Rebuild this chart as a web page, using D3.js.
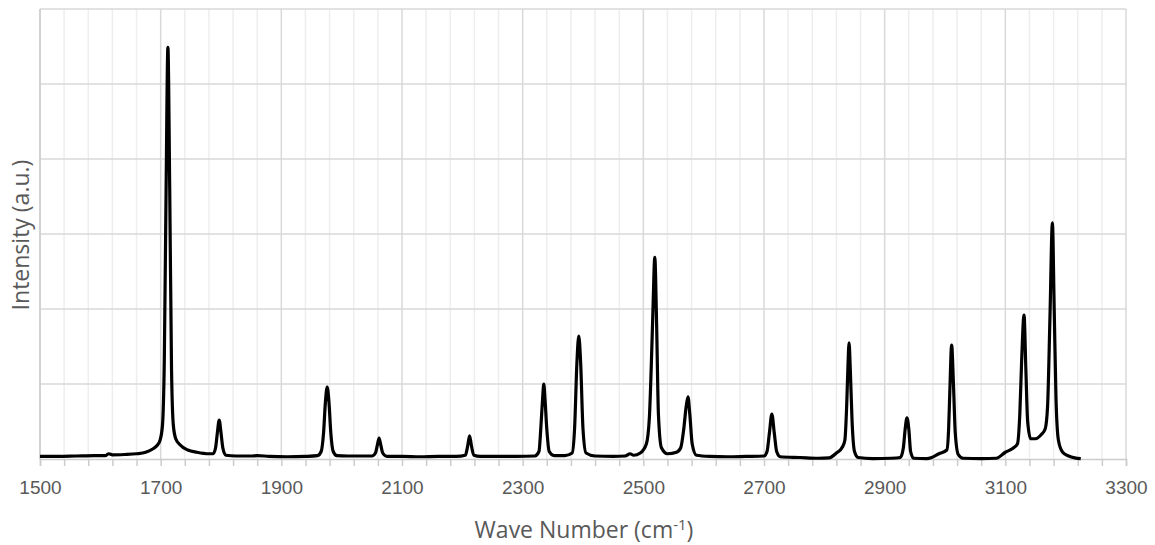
<!DOCTYPE html>
<html lang="en">
<head>
<meta charset="UTF-8" />
<title>Spectrum</title>
<script src="https://d3js.org/d3.v7.min.js"></script>
<style>
    body { margin: 0; background: #fff; }
    svg { display: block; font-family: "Open Sans", sans-serif; }
    .tick text { fill: #595959; }
</style>
</head>
<body>
<div id="chart"></div>
<script>
    // wave number (cm-1) and intensity (a.u.)
    const waveNumber = [
        1500, 1530, 1560, 1590, 1608, 1614, 1620, 1640, 1660, 1675, 1686, 1694, 1699, 1703, 1706, 1709, 1712, 1715, 1718, 1721, 1725, 1732, 1745, 1760, 1780,
        1787, 1791, 1794, 1797, 1800, 1803, 1808, 1825, 1850, 1860, 1880, 1910, 1940, 1960,
        1966, 1970, 1973, 1976, 1979, 1982, 1986, 1992, 2010, 2030, 2050,
        2056, 2059, 2062, 2065, 2068, 2075, 2100, 2130, 2160, 2190,
        2205, 2209, 2212, 2215, 2219, 2230, 2260, 2290, 2320,
        2327, 2330, 2333, 2335, 2337, 2340, 2344, 2352, 2370,
        2382, 2386, 2390, 2393, 2396, 2400, 2405, 2420, 2450, 2470, 2478, 2484, 2495,
        2505, 2510, 2513, 2516, 2519, 2522, 2525, 2530, 2540, 2555,
        2562, 2567, 2571, 2574, 2577, 2581, 2588, 2610, 2640, 2670, 2700,
        2705, 2709, 2713, 2717, 2721, 2727, 2760, 2790, 2808,
        2820, 2830, 2834, 2837, 2839, 2841, 2843, 2846, 2850, 2856, 2880, 2910, 2926,
        2931, 2934, 2937, 2940, 2943, 2948, 2970, 2978,
        2990, 3003, 3006, 3008, 3011, 3014, 3017, 3022, 3030, 3060, 3085,
        3100, 3112, 3120, 3124, 3127, 3131, 3134, 3137, 3142, 3150, 3160, 3166,
        3170, 3174, 3178, 3181, 3184, 3188, 3195, 3205, 3215, 3225
    ];
    const intensity = [
        0.035, 0.035, 0.04, 0.045, 0.045, 0.07, 0.055, 0.06, 0.07, 0.09, 0.13, 0.18, 0.25, 0.45, 1.3, 3.6, 5.49, 3.6, 1.2, 0.45, 0.27, 0.19, 0.12, 0.09, 0.07,
        0.07, 0.15, 0.35, 0.52, 0.35, 0.15, 0.05, 0.04, 0.04, 0.045, 0.035, 0.03, 0.035, 0.045,
        0.1, 0.35, 0.75, 0.96, 0.75, 0.35, 0.1, 0.045, 0.04, 0.04, 0.04,
        0.08, 0.18, 0.28, 0.18, 0.08, 0.035, 0.035, 0.03, 0.035, 0.035,
        0.05, 0.18, 0.31, 0.18, 0.05, 0.035, 0.035, 0.035, 0.04,
        0.1, 0.4, 0.8, 1.0, 0.8, 0.4, 0.1, 0.045, 0.045,
        0.08, 0.4, 1.3, 1.64, 1.3, 0.4, 0.08, 0.04, 0.035, 0.04, 0.07, 0.05, 0.08,
        0.2, 0.55, 1.2, 2.0, 2.69, 1.8, 0.6, 0.15, 0.07, 0.09,
        0.15, 0.4, 0.7, 0.83, 0.6, 0.2, 0.05, 0.035, 0.03, 0.035, 0.04,
        0.1, 0.35, 0.6, 0.35, 0.1, 0.03, 0.02, 0.01, 0.015,
        0.08, 0.16, 0.25, 0.7, 1.2, 1.55, 1.2, 0.5, 0.1, 0.02, 0.005, 0.01, 0.02,
        0.15, 0.4, 0.55, 0.4, 0.1, 0.01, 0.005, 0.02,
        0.07, 0.12, 0.4, 0.9, 1.52, 1.0, 0.35, 0.06, 0.01, 0.005, 0.01,
        0.09, 0.14, 0.2, 0.6, 1.3, 1.92, 1.2, 0.5, 0.27, 0.27, 0.33, 0.4,
        0.7, 1.9, 3.15, 2.0, 0.8, 0.25, 0.09, 0.04, 0.015, 0.005
    ];
    const xMajorTicks = [1500, 1700, 1900, 2100, 2300, 2500, 2700, 2900, 3100, 3300];
    const xMinorTicks = d3.range(1500, 3301, 40);
    const yGridValues = [1, 2, 3, 4, 5, 6];
    const xTitle = "Wave Number (cm";
    const yTitle = "Intensity (a.u.)";

    const W = 1155, H = 545;
    const margin = { top: 9, right: 29, bottom: 86, left: 40 };
    const width = W - margin.left - margin.right;
    const height = H - margin.top - margin.bottom;

    const svg = d3.select("#chart").append("svg")
        .attr("width", W)
        .attr("height", H);

    const g = svg.append("g")
        .attr("transform", `translate(${margin.left},${margin.top})`);

    const x = d3.scaleLinear().domain([1500, 3300]).range([0, width]);
    const y = d3.scaleLinear().domain([0, 6]).range([height, 0]);

    // minor vertical grid
    g.append("g").selectAll("line")
        .data(xMinorTicks.filter(d => (d - 1500) % 200 !== 0))
        .join("line")
        .attr("x1", d => x(d)).attr("x2", d => x(d))
        .attr("y1", 0).attr("y2", height)
        .attr("stroke", "#eeeeee")
        .attr("stroke-width", 1.5);

    // major vertical grid
    g.append("g").selectAll("line")
        .data(xMajorTicks)
        .join("line")
        .attr("x1", d => x(d)).attr("x2", d => x(d))
        .attr("y1", 0).attr("y2", height)
        .attr("stroke", "#d9d9d9")
        .attr("stroke-width", 1.5);

    // horizontal grid
    g.append("g").selectAll("line")
        .data(yGridValues)
        .join("line")
        .attr("x1", 0).attr("x2", width)
        .attr("y1", d => y(d)).attr("y2", d => y(d))
        .attr("stroke", "#d9d9d9")
        .attr("stroke-width", 1.5);

    // y axis line
    g.append("line")
        .attr("x1", 0).attr("x2", 0)
        .attr("y1", 0).attr("y2", height)
        .attr("stroke", "#cccccc")
        .attr("stroke-width", 1.5);

    // x axis
    const xAxis = g.append("g")
        .attr("transform", `translate(0,${height})`)
        .call(d3.axisBottom(x)
            .tickValues(xMinorTicks)
            .tickSize(7)
            .tickFormat(d => xMajorTicks.includes(d) ? d : ""));
    xAxis.select(".domain").attr("stroke", "#cccccc").attr("stroke-width", 1.5);
    xAxis.selectAll(".tick line").attr("stroke", "#cccccc").attr("stroke-width", 1.5);
    xAxis.selectAll(".tick text")
        .attr("y", 22)
        .style("font-size", "19px");

    // spectrum
    const points = waveNumber.map((w, i) => [w, intensity[i]]);
    g.append("path")
        .datum(points)
        .attr("fill", "none")
        .attr("stroke", "#000")
        .attr("stroke-width", 3.2)
        .attr("stroke-linejoin", "round")
        .attr("d", d3.line()
            .x(d => x(d[0]))
            .y(d => y(d[1]))
            .curve(d3.curveMonotoneX));

    // axis titles
    const xt = svg.append("text")
        .attr("x", 584)
        .attr("y", 538)
        .attr("text-anchor", "middle")
        .attr("fill", "#595959")
        .style("font-size", "23px")
        .text(xTitle);
    xt.append("tspan").attr("dy", -8).style("font-size", "15px").text("-1");
    xt.append("tspan").attr("dy", 8).text(")");

    svg.append("text")
        .attr("transform", `translate(29,235) rotate(-90)`)
        .attr("text-anchor", "middle")
        .attr("fill", "#595959")
        .style("font-size", "23px")
        .text(yTitle);
</script>
</body>
</html>
